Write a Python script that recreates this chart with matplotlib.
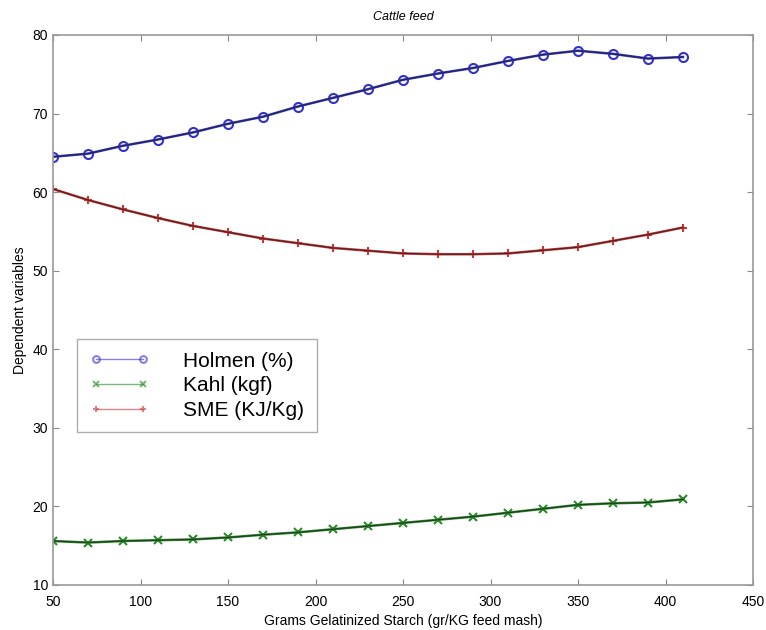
import matplotlib
matplotlib.use("Agg")
import matplotlib.pyplot as plt

x = [50, 70, 90, 110, 130, 150, 170, 190, 210, 230, 250, 270, 290, 310, 330, 350, 370, 390, 410]
holmen = [64.5, 64.9, 65.9, 66.7, 67.6, 68.7, 69.6, 70.9, 72.0, 73.1, 74.3, 75.1, 75.8, 76.7, 77.5, 78.0, 77.6, 77.0, 77.2]
kahl = [15.6, 15.4, 15.6, 15.7, 15.8, 16.05, 16.4, 16.7, 17.1, 17.5, 17.9, 18.3, 18.7, 19.2, 19.7, 20.2, 20.4, 20.5, 20.9]
sme = [60.4, 59.0, 57.8, 56.7, 55.7, 54.9, 54.1, 53.5, 52.9, 52.55, 52.2, 52.1, 52.1, 52.2, 52.6, 53.0, 53.8, 54.6, 55.5]
labels = ["Holmen (%)", "Kahl (kgf)", "SME (KJ/Kg)"]
xticks = [50, 100, 150, 200, 250, 300, 350, 400, 450]
yticks = [10, 20, 30, 40, 50, 60, 70, 80]

plt.rcParams['font.family'] = ['Liberation Sans', 'DejaVu Sans']

fig = plt.figure(figsize=(7.66, 6.3), dpi=100)
ax = fig.add_axes([53/766, 1-585/630, 700/766, 550/630])

series = [(holmen, "#3333cc", "o"), (kahl, "#2a8a2a", "x"), (sme, "#cc3333", "+")]
handles = []
for (vals, col, mk), lab in zip(series, labels):
    h, = ax.plot(x, vals, color=col, lw=1.8, marker=mk, ms=6.5 if mk == "o" else 6,
                 mfc="none" if mk == "o" else col, mec=col, mew=1.5, label=lab)
    ax.plot(x, vals, color="#222222", lw=0.8, alpha=0.8)
    handles.append(h)

ax.set_xlim(50, 450)
ax.set_ylim(10, 80)
ax.set_xticks(xticks)
ax.set_yticks(yticks)
ax.tick_params(direction="in", top=True, right=True, labelsize=10, length=4, color="#888888")
ax.tick_params(axis="x", pad=7)
for s in ax.spines.values():
    s.set_color("#999999")
    s.set_linewidth(1.2)

ax.set_title("Cattle feed", fontsize=9, style="italic", pad=11)
ax.set_xlabel("Grams Gelatinized Starch (gr/KG feed mash)", fontsize=10, labelpad=4)
ax.set_ylabel("Dependent variables", fontsize=10, labelpad=4)

leg = ax.legend(handles=handles, loc="upper left", bbox_to_anchor=(0.034, 0.447),
                fontsize=15, handlelength=2.9, numpoints=2, fancybox=False, edgecolor="#999999",
                borderpad=0.6, labelspacing=0.27, handletextpad=1.6, markerscale=0.75,
                borderaxespad=0.0)
for lh in leg.get_lines():
    lh.set_linewidth(1.0)
    lh.set_alpha(0.6)

fig.savefig("out.png", dpi=100)
